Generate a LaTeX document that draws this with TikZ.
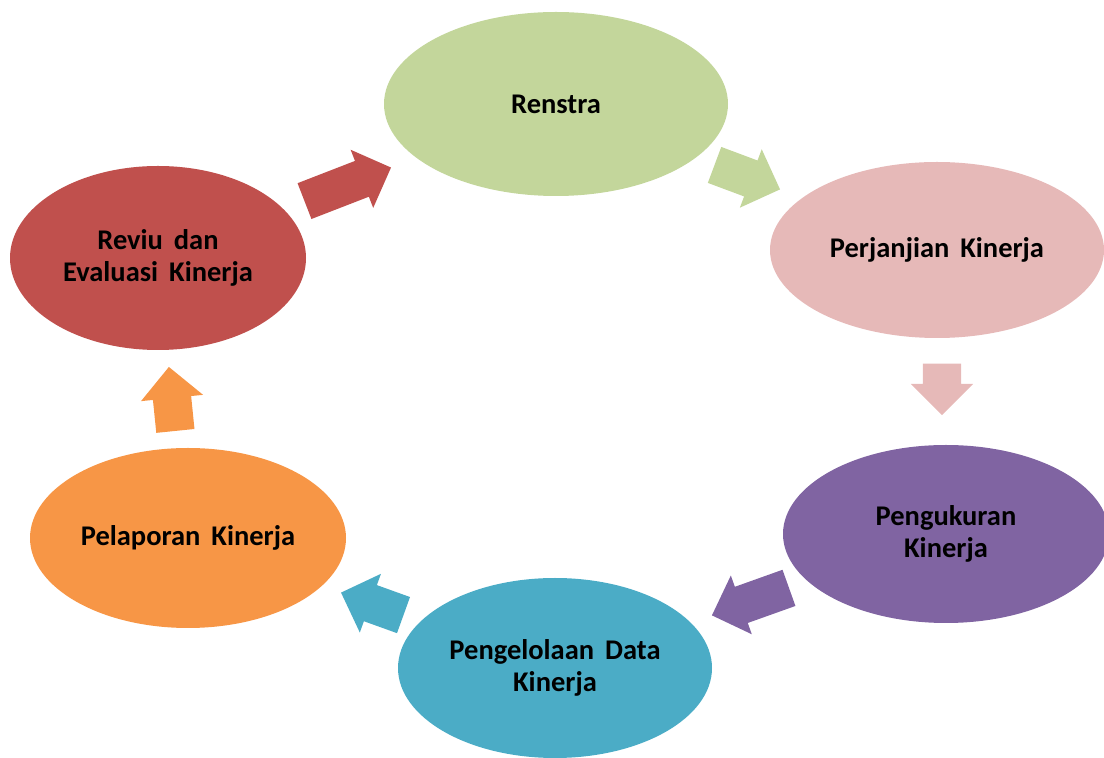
\documentclass[tikz,border=0pt]{standalone}
\usepackage{fontspec}
\setmainfont{Carlito}[WordSpace=1.7]
\usetikzlibrary{shapes.geometric,shapes.arrows}
\definecolor{cRen}{HTML}{C3D69B}
\definecolor{cPer}{HTML}{E6B9B8}
\definecolor{cPeng}{HTML}{8064A2}
\definecolor{cData}{HTML}{4BACC6}
\definecolor{cLap}{HTML}{F79646}
\definecolor{cRev}{HTML}{C0504D}
\begin{document}
\begin{tikzpicture}[x=1pt,y=1pt,
  phase/.style={ellipse, draw=none, inner sep=0pt, align=center,
    font=\fontsize{28.5}{32}\selectfont\bfseries, text=black},
  blockarrow/.style={single arrow, draw=none, fill=#1, minimum width=62pt,
    single arrow head extend=12pt, single arrow tip angle=90,
    inner xsep=0pt, inner ysep=19pt}]
\useasboundingbox (0,0) rectangle (1104,758);
\clip (0,0) rectangle (1104,758);
% phases
\node[phase, fill=cRen, minimum width=344pt, minimum height=184pt] (ren) at (556,654) {Renstra};
\node[phase, fill=cPer, minimum width=334pt, minimum height=176pt] (per) at (937,508) {Perjanjian Kinerja};
\node[phase, fill=cPeng, minimum width=326pt, minimum height=178pt] (peng) at (946,224) {Pengukuran\\Kinerja};
\node[phase, fill=cData, minimum width=314pt, minimum height=180pt] (data) at (555,90) {Pengelolaan Data\\Kinerja};
\node[phase, fill=cLap, minimum width=316pt, minimum height=180pt] (lap) at (188,220) {Pelaporan Kinerja};
\node[phase, fill=cRev, minimum width=296pt, minimum height=184pt] (rev) at (158,500) {Reviu dan\\Evaluasi Kinerja};
% block arrows
\node[blockarrow=cRev, minimum height=92.8pt, rotate=21.2] (a1) at (338.8,570.2) {};
\node[blockarrow=cRen, minimum height=69.9pt, rotate=-20.5] (a2) at (738.3,584.2) {};
\node[blockarrow=cPer, minimum height=51.3pt, rotate=-90] (a3) at (942,378.2) {};
\node[blockarrow=cPeng, minimum height=81.8pt, rotate=-160.35] (a4) at (759.5,159.6) {};
\node[blockarrow=cData, minimum height=66.4pt, rotate=160.2] (a5) at (381.3,150.9) {};
\node[blockarrow=cLap, minimum height=64.3pt, rotate=95.8] (a6) at (173.1,349.5) {};
\end{tikzpicture}
\end{document}
